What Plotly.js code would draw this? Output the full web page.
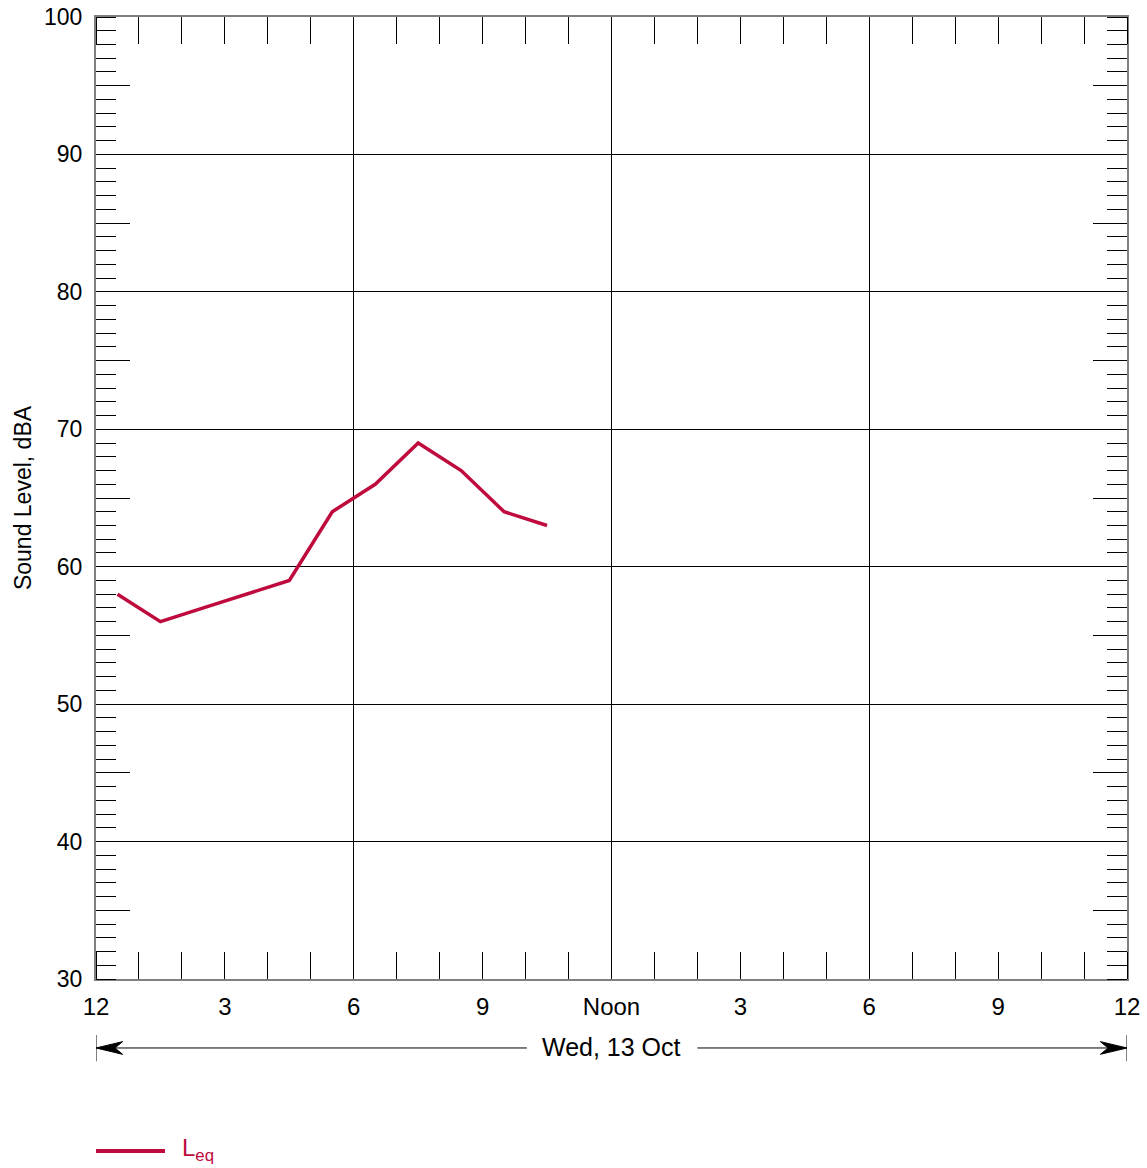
<!DOCTYPE html>
<html>
<head>
<meta charset="utf-8">
<script src="https://cdn.plot.ly/plotly-3.0.1.min.js"></script>
<style>
  html, body { margin: 0; padding: 0; background: #fff; }
  #chart { width: 1147px; height: 1168px; }
</style>
</head>
<body>
<div id="chart"></div>
<script>
// ---- Data (hours after midnight, Wed 13 Oct) ----
const hours = [0.5, 1.5, 2.5, 3.5, 4.5, 5.5, 6.5, 7.5, 8.5, 9.5, 10.5];
const leq   = [58, 56, 57, 58, 59, 64, 66, 69, 67, 64, 63];

const xTickVals  = [0, 3, 6, 9, 12, 15, 18, 21, 24];
const xTickText  = ['12', '3', '6', '9', 'Noon', '3', '6', '9', '12'];
const xGridVals  = [6, 12, 18];
const xMinorVals = Array.from({length: 25}, (_, i) => i);
const yTickVals  = [30, 40, 50, 60, 70, 80, 90, 100];
const yMidVals   = [35, 45, 55, 65, 75, 85, 95];
const yMinorVals = Array.from({length: 71}, (_, i) => 30 + i);

const seriesName = 'L<sub>eq</sub>';
const dateLabel  = 'Wed, 13 Oct';
const yTitle     = 'Sound Level, dBA';

const RED = '#BE0A3C';
const FONT = 'Liberation Sans, Arial, sans-serif';

const traces = [
  {x: hours, y: leq, type: 'scatter', mode: 'lines',
   name: seriesName, showlegend: false, hoverinfo: 'skip',
   line: {color: RED, width: 3.5}},
  // empty helper traces so the overlay axes (grid / extra ticks) exist
  {x: [], y: [], xaxis: 'x2', yaxis: 'y', type: 'scatter', mode: 'lines', showlegend: false, hoverinfo: 'skip'},
  {x: [], y: [], xaxis: 'x', yaxis: 'y2', type: 'scatter', mode: 'lines', showlegend: false, hoverinfo: 'skip'}
];

// arrow geometry (x in hours, y in paper units)
const yArr = -0.0717, hh = 0.0066, aLen = 0.62, aNotch = 0.44;
const leftHead  = `M 0,${yArr} L ${aLen},${yArr + hh} L ${aNotch},${yArr} L ${aLen},${yArr - hh} Z`;
const rightHead = `M 24,${yArr} L ${24 - aLen},${yArr + hh} L ${24 - aNotch},${yArr} L ${24 - aLen},${yArr - hh} Z`;

const layout = {
  width: 1147, height: 1168,
  margin: {l: 96, r: 20, t: 17, b: 189},
  paper_bgcolor: '#fff', plot_bgcolor: '#fff',
  font: {family: FONT, size: 23, color: '#000'},
  showlegend: false,
  xaxis: {
    range: [0, 24], tickmode: 'array', tickvals: xTickVals, ticktext: xTickText,
    ticks: '', ticklabelstandoff: 5,
    showgrid: false, zeroline: false,
    showline: true, linecolor: '#808080', linewidth: 2, mirror: 'ticks',
    minor: {tickmode: 'array', tickvals: xMinorVals, ticks: 'inside', ticklen: 27,
            tickcolor: '#000', tickwidth: 1, showgrid: false},
    tickfont: {size: 24, family: FONT}
  },
  xaxis2: {
    overlaying: 'x', anchor: 'y', side: 'bottom',
    range: [0, 24], tickmode: 'array', tickvals: xGridVals,
    ticks: '', showticklabels: false, showline: false, zeroline: false,
    showgrid: true, gridcolor: '#000', gridwidth: 1
  },
  yaxis: {
    range: [30, 100], tickmode: 'array', tickvals: yTickVals,
    ticks: '', ticklabelstandoff: 7,
    showgrid: true, gridcolor: '#000', gridwidth: 1, zeroline: false,
    showline: true, linecolor: '#808080', linewidth: 2, mirror: 'ticks',
    minor: {tickmode: 'array', tickvals: yMinorVals, ticks: 'inside', ticklen: 20,
            tickcolor: '#000', tickwidth: 1, showgrid: false},
    tickfont: {size: 23, family: FONT},
    title: {text: yTitle, font: {size: 23, family: FONT}, standoff: 6}
  },
  yaxis2: {
    overlaying: 'y', anchor: 'x', side: 'left',
    range: [30, 100], tickmode: 'array', tickvals: yMidVals,
    ticks: 'inside', ticklen: 34, tickcolor: '#000', tickwidth: 1,
    showticklabels: false, showgrid: false, zeroline: false,
    showline: false, mirror: 'ticks'
  },
  shapes: [
    // date span lines
    {type: 'line', xref: 'x', yref: 'paper', x0: 0, x1: 10.03, y0: yArr, y1: yArr,
     line: {color: '#000', width: 1}},
    {type: 'line', xref: 'x', yref: 'paper', x0: 14.0, x1: 24, y0: yArr, y1: yArr,
     line: {color: '#000', width: 1}},
    // end bars
    {type: 'line', xref: 'x', yref: 'paper', x0: 0, x1: 0, y0: -0.0582, y1: -0.0855,
     line: {color: '#808080', width: 2}},
    {type: 'line', xref: 'x', yref: 'paper', x0: 24, x1: 24, y0: -0.0582, y1: -0.0855,
     line: {color: '#808080', width: 2}},
    // arrowheads
    {type: 'path', xref: 'x', yref: 'paper', path: leftHead, fillcolor: '#000', line: {color: '#000', width: 1}},
    {type: 'path', xref: 'x', yref: 'paper', path: rightHead, fillcolor: '#000', line: {color: '#000', width: 1}},
    // legend swatch
    {type: 'line', xref: 'paper', yref: 'paper', x0: 0, x1: 0.0669, y0: -0.1788, y1: -0.1788,
     line: {color: RED, width: 4}}
  ],
  annotations: [
    {text: dateLabel, xref: 'x', yref: 'paper', x: 12, y: -0.0707,
     xanchor: 'center', yanchor: 'middle', showarrow: false,
     font: {size: 25, family: FONT, color: '#000'}},
    {text: seriesName, xref: 'paper', yref: 'paper', x: 0.081, y: -0.1768,
     xanchor: 'left', yanchor: 'middle', showarrow: false,
     font: {size: 24, family: FONT, color: RED}}
  ]
};

Plotly.newPlot('chart', traces, layout, {displayModeBar: false, staticPlot: true});
</script>
</body>
</html>
